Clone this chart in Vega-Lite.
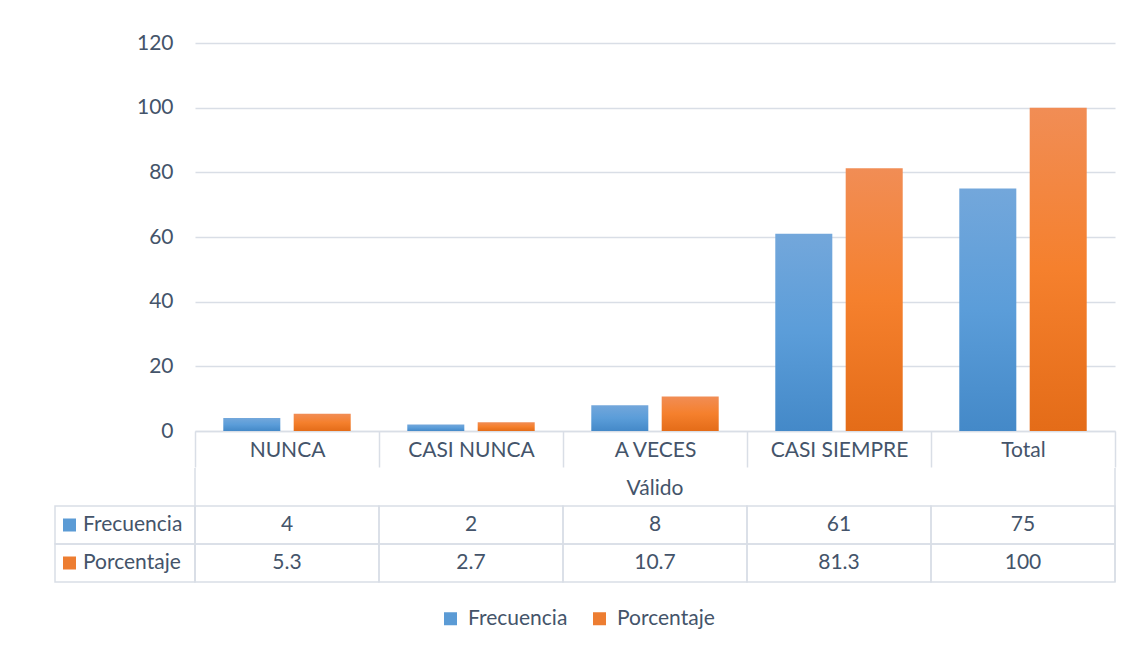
{
  "$schema": "https://vega.github.io/schema/vega-lite/v6.json",
  "padding": {"left": 54, "top": 32, "right": 5, "bottom": 5},
  "autosize": {"type": "pad"},
  "background": "white",
  "columns": 2,
  "bounds": "flush",
  "align": "each",
  "spacing": {"row": 37, "column": 0},
  "data": {"values": [
    {"cat": "NUNCA", "serie": "Frecuencia", "valor": 4},
    {"cat": "NUNCA", "serie": "Porcentaje", "valor": 5.3},
    {"cat": "CASI NUNCA", "serie": "Frecuencia", "valor": 2},
    {"cat": "CASI NUNCA", "serie": "Porcentaje", "valor": 2.7},
    {"cat": "A VECES", "serie": "Frecuencia", "valor": 8},
    {"cat": "A VECES", "serie": "Porcentaje", "valor": 10.7},
    {"cat": "CASI SIEMPRE", "serie": "Frecuencia", "valor": 61},
    {"cat": "CASI SIEMPRE", "serie": "Porcentaje", "valor": 81.3},
    {"cat": "Total", "serie": "Frecuencia", "valor": 75},
    {"cat": "Total", "serie": "Porcentaje", "valor": 100}
  ]},
  "config": {
    "view": {"stroke": null},
    "font": "Lato",
    "text": {"font": "Lato", "fontSize": 21, "color": "#44546a"},
    "axis": {"labelFont": "Lato", "labelFontSize": 21, "labelColor": "#44546a"},
    "legend": {"labelFont": "Lato", "labelFontSize": 21, "labelColor": "#44546a"}
  },
  "concat": [
    {
      "width": 140,
      "height": 388,
      "mark": {"type": "text", "text": ""},
      "encoding": {}
    },
    {
      "width": 920,
      "height": 388,
      "encoding": {
        "x": {
          "field": "cat", "type": "nominal", "title": null,
          "sort": ["NUNCA", "CASI NUNCA", "A VECES", "CASI SIEMPRE", "Total"],
          "scale": {"paddingInner": 0, "paddingOuter": 0},
          "axis": {
            "labelAngle": 0, "tickBand": "extent", "tickSize": 36, "tickWidth": 1.5,
            "tickColor": "#d9dee6", "domainColor": "#d9dee6", "domainWidth": 1.5,
            "labelPadding": -28, "grid": false
          }
        },
        "xOffset": {
          "field": "serie", "type": "nominal", "sort": ["Frecuencia", "Porcentaje"],
          "scale": {"paddingInner": 0.19, "paddingOuter": 0.4018}
        },
        "y": {
          "field": "valor", "type": "quantitative", "title": null,
          "scale": {"domain": [0, 120], "nice": false},
          "axis": {
            "values": [0, 20, 40, 60, 80, 100, 120], "domain": false, "ticks": false,
            "tickSize": 0, "labelPadding": 22, "grid": true, "gridColor": "#d9dee6", "gridWidth": 1.5
          }
        }
      },
      "layer": [
        {
          "transform": [{"filter": "datum.serie === 'Frecuencia'"}],
          "mark": {"type": "bar", "fill": {"gradient": "linear", "x1": 0, "y1": 0, "x2": 0, "y2": 1,
            "stops": [{"offset": 0, "color": "#73a7db"}, {"offset": 0.5, "color": "#5b9dd9"}, {"offset": 1, "color": "#4489c8"}]}}
        },
        {
          "transform": [{"filter": "datum.serie === 'Porcentaje'"}],
          "mark": {"type": "bar", "fill": {"gradient": "linear", "x1": 0, "y1": 0, "x2": 0, "y2": 1,
            "stops": [{"offset": 0, "color": "#f18d55"}, {"offset": 0.5, "color": "#f5802d"}, {"offset": 1, "color": "#e46c18"}]}}
        }
      ]
    },
    {
      "width": 140,
      "height": 114,
      "transform": [{"filter": "datum.cat === 'NUNCA'"}],
      "encoding": {
        "y": {"field": "serie", "type": "nominal", "title": null, "axis": null,
          "scale": {"domain": ["Válido", "Frecuencia", "Porcentaje"], "paddingInner": 0, "paddingOuter": 0}}
      },
      "layer": [
        {"mark": {"type": "rect", "fill": "#ffffff", "fillOpacity": 0, "stroke": "#d9dee6", "strokeWidth": 1.5}},
        {
          "mark": {"type": "point", "shape": "square", "filled": true, "size": 169, "opacity": 1, "xOffset": -55.5},
          "encoding": {
            "color": {"field": "serie", "type": "nominal",
              "scale": {"domain": ["Frecuencia", "Porcentaje"], "range": ["#5b9bd5", "#ed7d31"]},
              "legend": {"orient": "none", "legendX": 385, "legendY": 565, "direction": "horizontal", "title": null,
                "symbolType": "square", "symbolSize": 169, "symbolStrokeWidth": 0, "labelOffset": 7,
                "columnPadding": 21, "padding": 0}}
          }
        },
        {
          "mark": {"type": "text", "align": "left", "dx": -42, "baseline": "middle"},
          "encoding": {"text": {"field": "serie", "type": "nominal"}}
        }
      ]
    },
    {
      "width": 920,
      "height": 114,
      "layer": [
        {
          "mark": {"type": "rect", "fill": "#ffffff", "fillOpacity": 0, "stroke": "#d9dee6", "strokeWidth": 1.5},
          "encoding": {
            "x": {"field": "cat", "type": "nominal", "title": null, "axis": null,
              "sort": ["NUNCA", "CASI NUNCA", "A VECES", "CASI SIEMPRE", "Total"],
              "scale": {"paddingInner": 0, "paddingOuter": 0}},
            "y": {"field": "serie", "type": "nominal", "title": null, "axis": null,
              "scale": {"domain": ["Válido", "Frecuencia", "Porcentaje"], "paddingInner": 0, "paddingOuter": 0}}
          }
        },
        {
          "transform": [{"filter": "datum.cat === 'NUNCA' && datum.serie === 'Frecuencia'"}],
          "mark": {"type": "rule", "stroke": "#d9dee6", "strokeWidth": 1.5},
          "encoding": {
            "x": {"field": "cat", "type": "nominal", "bandPosition": 0,
              "sort": ["NUNCA", "CASI NUNCA", "A VECES", "CASI SIEMPRE", "Total"]}
          }
        },
        {
          "transform": [{"filter": "datum.cat === 'Total' && datum.serie === 'Frecuencia'"}],
          "mark": {"type": "rule", "stroke": "#d9dee6", "strokeWidth": 1.5},
          "encoding": {
            "x": {"field": "cat", "type": "nominal", "bandPosition": 1,
              "sort": ["NUNCA", "CASI NUNCA", "A VECES", "CASI SIEMPRE", "Total"]}
          }
        },
        {
          "mark": {"type": "text", "baseline": "middle"},
          "encoding": {
            "x": {"field": "cat", "type": "nominal",
              "sort": ["NUNCA", "CASI NUNCA", "A VECES", "CASI SIEMPRE", "Total"]},
            "y": {"field": "serie", "type": "nominal"},
            "text": {"field": "valor", "type": "nominal"}
          }
        },
        {
          "data": {"values": [{"grupo": "Válido"}]},
          "mark": {"type": "text", "baseline": "middle", "dy": 2},
          "encoding": {
            "y": {"field": "grupo", "type": "nominal"},
            "text": {"field": "grupo", "type": "nominal"}
          }
        }
      ]
    }
  ]
}
